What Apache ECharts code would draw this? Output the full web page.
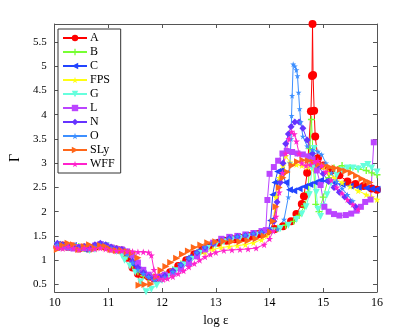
<!DOCTYPE html>
<html>
<head>
<meta charset="utf-8">
<script src="https://cdn.jsdelivr.net/npm/echarts@6/dist/echarts.min.js"></script>
<style>
  html, body { margin: 0; padding: 0; background: #fff; }
  #main { width: 415px; height: 332px; }
</style>
</head>
<body>
<div id="main"></div>
<script>
// Γ vs log ε for each EOS, values as [log ε, Γ]
var xTicks = [10, 11, 12, 13, 14, 15, 16]
var yTicks = [0.5, 1, 1.5, 2, 2.5, 3, 3.5, 4, 4.5, 5, 5.5]

var dataA = [[10.05,1.27],[10.15,1.3],[10.25,1.27],[10.35,1.28],[10.45,1.24],[10.55,1.26],[10.65,1.24],[10.75,1.27],[10.85,1.29],[10.95,1.27],[11.05,1.24],[11.15,1.22],[11.25,1.2],[11.35,1.05],[11.45,0.85],[11.55,0.72],[11.65,0.7],[11.75,0.66],[11.85,0.62],[11.95,0.64],[12.05,0.68],[12.15,0.75],[12.3,0.88],[12.45,1.0],[12.6,1.12],[12.75,1.22],[12.9,1.3],[13.05,1.36],[13.2,1.4],[13.35,1.43],[13.5,1.46],[13.65,1.5],[13.8,1.54],[13.95,1.58],[14.1,1.64],[14.25,1.7],[14.4,1.8],[14.5,1.95],[14.6,2.16],[14.64,2.32],[14.7,2.8],[14.77,4.07],[14.79,4.8],[14.8,5.87],[14.81,4.82],[14.83,4.08],[14.85,3.55],[14.9,3.1],[15.0,2.95],[15.15,2.85],[15.3,2.75],[15.45,2.62],[15.6,2.57],[15.75,2.53],[15.9,2.48],[16.0,2.45]]
var dataB = [[10.05,1.3],[10.15,1.27],[10.25,1.3],[10.35,1.26],[10.45,1.28],[10.55,1.25],[10.65,1.23],[10.75,1.26],[10.85,1.3],[10.95,1.28],[11.05,1.24],[11.15,1.2],[11.25,1.18],[11.35,1.08],[11.45,0.9],[11.55,0.76],[11.65,0.68],[11.75,0.64],[11.85,0.62],[11.95,0.64],[12.05,0.7],[12.2,0.8],[12.35,0.92],[12.5,1.04],[12.65,1.15],[12.8,1.25],[12.95,1.32],[13.1,1.38],[13.25,1.42],[13.4,1.45],[13.55,1.48],[13.7,1.52],[13.85,1.56],[14.0,1.6],[14.15,1.66],[14.3,1.72],[14.45,1.8],[14.55,1.92],[14.65,2.12],[14.72,2.4],[14.75,3.3],[14.78,3.9],[14.82,2.9],[14.86,2.15],[14.92,2.0],[15.0,2.3],[15.1,2.7],[15.2,2.9],[15.35,2.95],[15.5,2.9],[15.65,2.88],[15.8,2.85],[15.9,2.8],[16.0,2.76]]
var dataC = [[10.05,1.33],[10.15,1.3],[10.25,1.27],[10.35,1.3],[10.45,1.25],[10.55,1.22],[10.65,1.25],[10.75,1.3],[10.85,1.32],[10.95,1.3],[11.05,1.25],[11.15,1.22],[11.25,1.2],[11.35,1.1],[11.45,0.92],[11.55,0.78],[11.65,0.72],[11.75,0.66],[11.85,0.6],[11.95,0.62],[12.05,0.66],[12.2,0.78],[12.35,0.92],[12.5,1.06],[12.65,1.18],[12.8,1.28],[12.95,1.36],[13.1,1.42],[13.25,1.46],[13.4,1.49],[13.55,1.52],[13.7,1.55],[13.85,1.58],[13.98,1.62],[14.02,1.82],[14.06,2.35],[14.1,2.6],[14.15,2.83],[14.22,2.86],[14.3,2.6],[14.37,2.45],[14.45,2.43],[14.55,2.47],[14.65,2.52],[14.75,2.56],[14.85,2.6],[14.95,2.65],[15.05,2.63],[15.2,2.6],[15.35,2.56],[15.5,2.53],[15.65,2.5],[15.8,2.49],[15.9,2.47],[16.0,2.46]]
var dataFPS = [[10.05,1.28],[10.15,1.26],[10.25,1.3],[10.35,1.27],[10.45,1.25],[10.55,1.24],[10.65,1.22],[10.75,1.25],[10.85,1.27],[10.95,1.25],[11.05,1.23],[11.15,1.2],[11.25,1.18],[11.35,1.12],[11.45,0.98],[11.55,0.8],[11.65,0.72],[11.75,0.68],[11.85,0.64],[11.95,0.62],[12.05,0.66],[12.2,0.74],[12.35,0.86],[12.5,0.98],[12.65,1.08],[12.8,1.16],[12.95,1.22],[13.1,1.26],[13.25,1.28],[13.4,1.3],[13.55,1.32],[13.7,1.36],[13.85,1.42],[13.95,1.5],[14.05,1.62],[14.12,2.3],[14.18,2.7],[14.25,2.95],[14.3,3.15],[14.38,3.02],[14.5,2.97],[14.6,2.95],[14.7,2.92],[14.8,2.9],[14.9,2.95],[15.0,2.92],[15.1,2.8],[15.2,2.7],[15.35,2.6],[15.5,2.52],[15.65,2.43],[15.8,2.35],[15.9,2.3],[16.0,2.25]]
var dataG = [[10.05,1.3],[10.15,1.28],[10.25,1.25],[10.35,1.27],[10.45,1.23],[10.55,1.25],[10.65,1.2],[10.75,1.22],[10.85,1.28],[10.95,1.3],[11.05,1.22],[11.15,1.18],[11.25,1.1],[11.3,1.0],[11.4,0.88],[11.5,0.75],[11.6,0.55],[11.7,0.35],[11.8,0.4],[11.9,0.48],[12.0,0.58],[12.1,0.66],[12.25,0.78],[12.4,0.9],[12.55,1.02],[12.7,1.14],[12.85,1.24],[13.0,1.32],[13.15,1.38],[13.3,1.42],[13.45,1.45],[13.6,1.48],[13.75,1.52],[13.9,1.56],[14.05,1.6],[14.2,1.65],[14.35,1.72],[14.5,1.84],[14.6,1.95],[14.68,2.1],[14.74,2.35],[14.79,2.9],[14.83,3.3],[14.87,2.4],[14.9,2.05],[14.95,1.9],[15.0,2.1],[15.07,2.35],[15.15,2.6],[15.25,2.75],[15.35,2.85],[15.45,2.9],[15.55,2.9],[15.65,2.88],[15.75,2.93],[15.83,2.97],[15.9,2.9],[16.0,2.82]]
var dataL = [[10.05,1.25],[10.15,1.28],[10.25,1.26],[10.35,1.24],[10.45,1.27],[10.55,1.25],[10.65,1.26],[10.75,1.3],[10.85,1.33],[10.95,1.3],[11.05,1.26],[11.15,1.23],[11.25,1.22],[11.35,1.18],[11.45,1.1],[11.55,0.95],[11.65,0.8],[11.75,0.7],[11.85,0.63],[11.95,0.66],[12.05,0.7],[12.2,0.74],[12.35,0.82],[12.5,0.94],[12.65,1.08],[12.8,1.22],[12.95,1.36],[13.1,1.44],[13.25,1.48],[13.4,1.5],[13.55,1.53],[13.7,1.56],[13.85,1.6],[13.93,1.62],[13.96,2.24],[14.0,2.78],[14.08,2.92],[14.16,3.05],[14.24,3.2],[14.32,3.25],[14.42,3.23],[14.52,3.2],[14.62,3.18],[14.72,3.14],[14.8,3.08],[14.88,2.85],[14.95,2.55],[15.02,2.1],[15.1,2.0],[15.2,1.95],[15.3,1.92],[15.42,1.93],[15.52,1.96],[15.62,2.02],[15.7,2.1],[15.78,2.2],[15.88,2.25],[15.94,3.43]]
var dataN = [[10.05,1.35],[10.15,1.32],[10.25,1.3],[10.35,1.28],[10.45,1.26],[10.55,1.28],[10.65,1.25],[10.75,1.32],[10.85,1.35],[10.95,1.32],[11.05,1.27],[11.15,1.24],[11.25,1.22],[11.35,1.15],[11.45,0.98],[11.55,0.85],[11.65,0.74],[11.75,0.66],[11.85,0.62],[11.95,0.64],[12.05,0.68],[12.2,0.78],[12.35,0.9],[12.5,1.03],[12.65,1.15],[12.8,1.26],[12.95,1.34],[13.1,1.4],[13.25,1.45],[13.4,1.48],[13.55,1.51],[13.7,1.54],[13.85,1.57],[14.0,1.61],[14.08,1.8],[14.14,2.2],[14.2,2.6],[14.25,3.0],[14.3,3.4],[14.35,3.6],[14.4,3.75],[14.47,3.85],[14.55,3.85],[14.62,3.72],[14.7,3.48],[14.8,3.2],[14.9,2.96],[15.0,2.78],[15.1,2.62],[15.2,2.5],[15.3,2.4],[15.4,2.3],[15.5,2.2],[15.6,2.1]]
var dataO = [[10.05,1.32],[10.15,1.3],[10.25,1.27],[10.35,1.25],[10.45,1.24],[10.55,1.26],[10.65,1.22],[10.75,1.27],[10.85,1.31],[10.95,1.29],[11.05,1.25],[11.15,1.21],[11.25,1.19],[11.35,1.12],[11.45,0.95],[11.55,0.8],[11.65,0.72],[11.75,0.66],[11.85,0.6],[11.95,0.6],[12.05,0.65],[12.2,0.76],[12.35,0.9],[12.5,1.04],[12.65,1.16],[12.8,1.27],[12.95,1.35],[13.1,1.41],[13.25,1.45],[13.4,1.49],[13.55,1.52],[13.7,1.55],[13.85,1.58],[14.0,1.6],[14.15,1.64],[14.27,1.84],[14.35,2.3],[14.38,3.0],[14.4,3.5],[14.41,3.98],[14.42,4.39],[14.44,5.04],[14.47,5.0],[14.5,4.92],[14.52,4.8],[14.54,4.46],[14.56,4.12],[14.58,3.85],[14.62,3.55],[14.7,3.35],[14.8,3.28],[14.9,3.24],[14.97,3.18],[15.05,3.0],[15.15,2.8],[15.25,2.62],[15.35,2.48],[15.45,2.35],[15.55,2.22]]
var dataSLy = [[10.05,1.22],[10.15,1.3],[10.25,1.35],[10.35,1.32],[10.45,1.22],[10.55,1.28],[10.65,1.32],[10.75,1.25],[10.85,1.3],[10.95,1.28],[11.05,1.22],[11.15,1.2],[11.25,1.2],[11.35,1.18],[11.45,1.15],[11.55,1.05],[11.57,0.48],[11.68,0.5],[11.79,0.51],[11.9,0.66],[11.98,0.79],[12.07,0.87],[12.16,0.95],[12.27,1.04],[12.38,1.12],[12.49,1.19],[12.6,1.26],[12.72,1.31],[12.85,1.36],[13.0,1.38],[13.15,1.39],[13.3,1.38],[13.45,1.38],[13.6,1.4],[13.75,1.44],[13.9,1.5],[14.02,1.58],[14.07,1.8],[14.12,2.1],[14.18,2.5],[14.25,2.7],[14.33,2.82],[14.42,2.95],[14.52,3.03],[14.62,3.06],[14.72,3.05],[14.82,3.02],[14.92,2.98],[15.02,2.95],[15.12,2.92],[15.22,2.9],[15.32,2.87],[15.42,2.84],[15.52,2.8],[15.62,2.74],[15.72,2.68],[15.8,2.63],[15.87,2.6]]
var dataWFF = [[10.05,1.26],[10.15,1.24],[10.25,1.28],[10.35,1.25],[10.45,1.22],[10.55,1.25],[10.65,1.24],[10.75,1.23],[10.85,1.25],[10.95,1.23],[11.05,1.21],[11.15,1.19],[11.25,1.19],[11.35,1.18],[11.45,1.18],[11.55,1.17],[11.65,1.17],[11.75,1.16],[11.8,1.1],[11.85,0.8],[11.88,0.68],[11.95,0.62],[12.02,0.6],[12.1,0.62],[12.2,0.66],[12.3,0.72],[12.4,0.78],[12.5,0.86],[12.6,0.93],[12.7,1.0],[12.8,1.07],[12.9,1.12],[13.0,1.16],[13.15,1.2],[13.3,1.21],[13.45,1.22],[13.6,1.23],[13.75,1.25],[13.9,1.32],[14.0,1.44],[14.07,1.6],[14.12,1.9],[14.18,2.4],[14.24,2.8],[14.3,3.2],[14.36,3.5],[14.41,3.65],[14.46,3.6],[14.5,3.45],[14.55,3.2],[14.6,3.0],[14.68,2.95],[14.76,2.97],[14.84,3.03],[14.9,3.05],[14.97,2.95],[15.05,2.82],[15.15,2.65],[15.25,2.5],[15.35,2.38],[15.45,2.25],[15.55,2.15],[15.65,2.05]]

var names = ['A', 'B', 'C', 'FPS', 'G', 'L', 'N', 'O', 'SLy', 'WFF']
var colors = ['#ff0000', '#77ff33', '#2244ff', '#ffff11', '#66ffdd', '#bb44ff', '#6633ff', '#3d8fff', '#ff6619', '#ff22cc']
var allData = [dataA, dataB, dataC, dataFPS, dataG, dataL, dataN, dataO, dataSLy, dataWFF]

var star = 'path://M50,0 L61,35 L98,35 L68,57 L79,91 L50,70 L21,91 L32,57 L2,35 L39,35 Z'
var plus = 'path://M4,0 L6,0 L6,4 L10,4 L10,6 L6,6 L6,10 L4,10 L4,6 L0,6 L0,4 L4,4 Z'
var marks = [
  { symbol: 'circle', size: 8, rot: 0 },
  { symbol: plus, size: 7, rot: 0 },
  { symbol: 'triangle', size: 7, rot: 90 },   // pointing left
  { symbol: star, size: 7, rot: 0 },
  { symbol: 'triangle', size: 7, rot: 180 },  // pointing down
  { symbol: 'rect', size: 6, rot: 0 },
  { symbol: 'diamond', size: 7, rot: 0 },
  { symbol: star, size: 6, rot: 0 },
  { symbol: 'triangle', size: 7, rot: -90 },  // pointing right
  { symbol: star, size: 7, rot: 0 }
]

var serif = 'Liberation Serif'
var myChart = echarts.init(document.getElementById('main'))

var series = names.map(function (n, i) {
  return {
    name: n,
    type: 'line',
    data: allData[i],
    symbol: marks[i].symbol,
    symbolSize: marks[i].size,
    symbolRotate: marks[i].rot,
    showAllSymbol: true,
    animation: false,
    lineStyle: { color: colors[i], width: 1 },
    itemStyle: { color: colors[i], borderWidth: 0 }
  }
})

var option = {
  animation: false,
  grid: { left: 54, right: 38, top: 24, bottom: 37 },
  legend: {
    orient: 'vertical',
    left: 58,
    top: 29,
    data: names,
    itemWidth: 24,
    itemHeight: 8,
    itemGap: 2,
    padding: [3, 6, 3, 4],
    borderColor: '#333',
    borderWidth: 1,
    backgroundColor: '#fff',
    textStyle: { fontFamily: serif, fontSize: 12, color: '#000', lineHeight: 12, padding: [0, 0, 0, -2] }
  },
  xAxis: [
    {
      type: 'value',
      min: 10,
      max: 16,
      interval: 1,
      name: 'log ε',
      nameLocation: 'middle',
      nameGap: 22,
      nameTextStyle: { fontFamily: serif, fontSize: 13, color: '#000' },
      axisLine: { lineStyle: { color: '#555' } },
      axisTick: { inside: true, length: 4, lineStyle: { color: '#555' } },
      axisLabel: { fontFamily: serif, fontSize: 12, color: '#000', margin: 5 },
      splitLine: { show: false }
    },
    {
      type: 'value',
      position: 'top',
      min: 10,
      max: 16,
      interval: 1,
      axisLine: { show: true, lineStyle: { color: '#555' } },
      axisTick: { inside: true, length: 4, lineStyle: { color: '#555' } },
      axisLabel: { show: false },
      splitLine: { show: false }
    }
  ],
  yAxis: [
    {
      type: 'value',
      min: 0.343,
      max: 5.87,
      name: 'Γ',
      nameLocation: 'middle',
      nameGap: 28,
      nameTextStyle: { fontFamily: serif, fontSize: 14, color: '#000' },
      axisLine: { show: true, lineStyle: { color: '#555' } },
      axisTick: { inside: true, length: 4, customValues: yTicks, lineStyle: { color: '#555' } },
      axisLabel: { fontFamily: serif, fontSize: 11, color: '#000', margin: 8, customValues: yTicks },
      splitLine: { show: false }
    },
    {
      type: 'value',
      position: 'right',
      min: 0.343,
      max: 5.87,
      axisLine: { show: true, lineStyle: { color: '#555' } },
      axisTick: { inside: true, length: 4, customValues: yTicks, lineStyle: { color: '#555' } },
      axisLabel: { show: false, customValues: yTicks },
      splitLine: { show: false }
    }
  ],
  series: series
}
option && myChart.setOption(option)
</script>
</body>
</html>
